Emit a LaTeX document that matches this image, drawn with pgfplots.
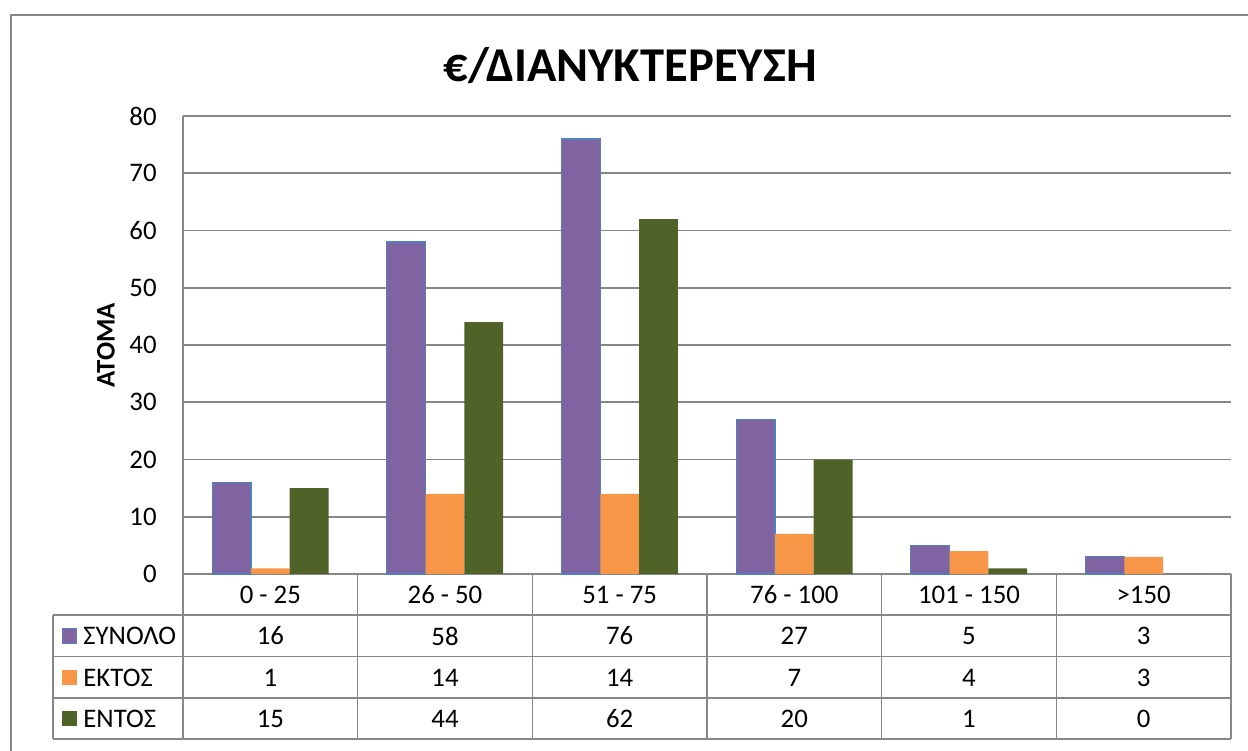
\documentclass[border=0pt]{standalone}
\usepackage{pgfplots}
\pgfplotsset{compat=1.18}
\usepackage{fontspec}
\setmainfont{Carlito}
\definecolor{cPur}{HTML}{8064A2}
\definecolor{cBlu}{HTML}{4F81BD}
\definecolor{cOra}{HTML}{F79646}
\definecolor{cGre}{HTML}{4F6228}
\definecolor{cGrid}{HTML}{878787}
\begin{document}
\begin{tikzpicture}[font=\fontsize{13.4}{16}\selectfont]
\useasboundingbox (0,0) rectangle (624pt,375pt);
\draw[cGrid, line width=1pt] (5.5pt,-5pt) -- (5.5pt,367.5pt) -- (640pt,367.5pt);
\node[font=\fontsize{24.3}{29}\selectfont\bfseries, anchor=base, inner sep=0pt] at (315pt,334pt) {€/ΔΙΑΝΥΚΤΕΡΕΥΣΗ};
\begin{axis}[
  at={(91.5pt,88pt)}, anchor=south west,
  width=524pt, height=229pt, scale only axis,
  xmin=-0.5, xmax=5.5, ymin=0, ymax=80,
  ytick={0,10,...,80},
  xtick={0,1,2,3,4,5},
  xticklabels={0 - 25, 26 - 50, 51 - 75, 76 - 100, 101 - 150, >150},
  major tick length=0pt,
  xticklabel style={anchor=center, yshift=-10.25pt},
  yticklabel style={anchor=east, inner sep=0pt, xshift=-13pt},
  /pgf/number format/assume math mode=true,
  ymajorgrids, grid style={cGrid, line width=0.8pt},
  axis line style={draw=none},
  ylabel={\bfseries ΑΤΟΜΑ},
  ylabel style={at={(axis description cs:-0.0735,0.5)}, anchor=center, inner sep=0pt},
  ybar=0pt, bar width=19.4pt,
  clip=false,
]
\addplot[fill=cPur, draw=cBlu, line width=0.6pt] coordinates {(0,16) (1,58) (2,76) (3,27) (4,5) (5,3)};
\addplot[fill=cOra, draw=none] coordinates {(0,1) (1,14) (2,14) (3,7) (4,4) (5,3)};
\addplot[fill=cGre, draw=none] coordinates {(0,15) (1,44) (2,62) (3,20) (4,1) (5,0)};
% left axis line
\draw[cGrid, line width=0.8pt] (axis cs:-0.5,80) -- (axis cs:-0.5,-28.82);
% table horizontal lines
\draw[cGrid, line width=0.8pt] (axis cs:-1.244,-7.16) -- (axis cs:5.5,-7.16);
\draw[cGrid, line width=0.8pt] (axis cs:-1.244,-14.41) -- (axis cs:5.5,-14.41);
\draw[cGrid, line width=0.8pt] (axis cs:-1.244,-21.66) -- (axis cs:5.5,-21.66);
\draw[cGrid, line width=0.8pt] (axis cs:-1.244,-28.82) -- (axis cs:5.5,-28.82);
% table vertical lines
\draw[cGrid, line width=0.8pt] (axis cs:-1.244,-7.16) -- (axis cs:-1.244,-28.82);
\pgfplotsinvokeforeach{0.5,1.5,2.5,3.5,4.5,5.5}{
  \draw[cGrid, line width=0.8pt] (axis cs:#1,0) -- (axis cs:#1,-28.82);
}
% legend keys
\fill[cPur, draw=cBlu, line width=0.6pt] (axis cs:-1.150,-10.83) ++(-3.6pt,-3.6pt) rectangle ++(7.2pt,7.2pt);
\fill[cOra] (axis cs:-1.150,-18.08) ++(-3.6pt,-3.6pt) rectangle ++(7.2pt,7.2pt);
\fill[cGre] (axis cs:-1.150,-25.24) ++(-3.6pt,-3.6pt) rectangle ++(7.2pt,7.2pt);
\node[anchor=west, inner sep=0pt] at (axis cs:-1.0725,-10.83) {ΣΥΝΟΛΟ};
\node[anchor=west, inner sep=0pt] at (axis cs:-1.0725,-18.08) {ΕΚΤΟΣ};
\node[anchor=west, inner sep=0pt] at (axis cs:-1.0725,-25.24) {ΕΝΤΟΣ};
% table values
\node at (axis cs:0,-10.83) {16}; \node at (axis cs:1,-10.83) {58}; \node at (axis cs:2,-10.83) {76};
\node at (axis cs:3,-10.83) {27}; \node at (axis cs:4,-10.83) {5};  \node at (axis cs:5,-10.83) {3};
\node at (axis cs:0,-18.08) {1};  \node at (axis cs:1,-18.08) {14}; \node at (axis cs:2,-18.08) {14};
\node at (axis cs:3,-18.08) {7};  \node at (axis cs:4,-18.08) {4};  \node at (axis cs:5,-18.08) {3};
\node at (axis cs:0,-25.24) {15}; \node at (axis cs:1,-25.24) {44}; \node at (axis cs:2,-25.24) {62};
\node at (axis cs:3,-25.24) {20}; \node at (axis cs:4,-25.24) {1};  \node at (axis cs:5,-25.24) {0};
\end{axis}
\end{tikzpicture}
\end{document}
